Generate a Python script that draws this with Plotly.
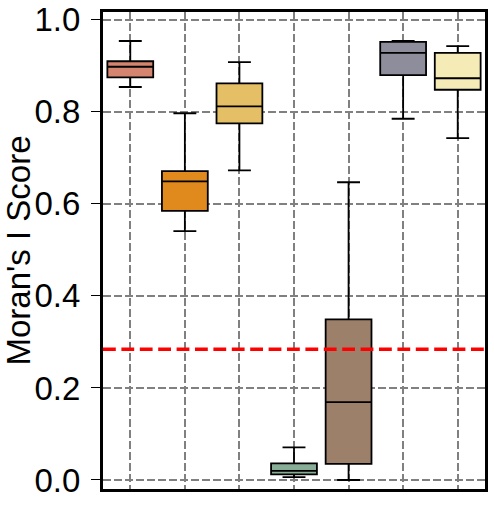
import plotly.graph_objects as go

positions = [0, 1, 2, 3, 4, 5, 6]
lower_whisker = [0.854, 0.541, 0.673, 0.006, 0.000, 0.785, 0.743]
q1_vals = [0.875, 0.585, 0.775, 0.012, 0.035, 0.880, 0.848]
median_vals = [0.898, 0.649, 0.812, 0.020, 0.169, 0.928, 0.873]
q3_vals = [0.910, 0.671, 0.862, 0.036, 0.349, 0.952, 0.928]
upper_whisker = [0.954, 0.797, 0.908, 0.071, 0.647, 0.954, 0.943]
colors = ["#D58470", "#E08A1E", "#E4BF65", "#88AD96", "#9D806A", "#8E8D9C", "#F5EBB6"]
threshold = 0.284
y_ticks = [0.0, 0.2, 0.4, 0.6, 0.8, 1.0]

fig = go.Figure()
for i in range(len(positions)):
    fig.add_trace(go.Box(
        x=[positions[i]],
        q1=[q1_vals[i]], median=[median_vals[i]], q3=[q3_vals[i]],
        lowerfence=[lower_whisker[i]], upperfence=[upper_whisker[i]],
        fillcolor=colors[i],
        line=dict(color="black", width=1.8),
        width=0.84, whiskerwidth=0.5,
        boxpoints=False, showlegend=False, hoverinfo="skip",
    ))

fig.add_shape(type="line", xref="paper", x0=0, x1=1, yref="y", y0=threshold, y1=threshold,
              line=dict(color="red", width=3.5, dash="12.8px,5.6px"), layer="above")

fig.update_layout(
    width=494, height=509,
    margin=dict(l=103, r=9, t=12, b=20),
    plot_bgcolor="white", paper_bgcolor="white",
    boxmode="overlay",
    font=dict(family="Liberation Sans, Arial", color="black", size=33),
    xaxis=dict(range=[-0.5, 6.5], tickvals=positions, showticklabels=False,
               showgrid=True, gridcolor="#808080", gridwidth=2, griddash="7.7px,3.3px",
               showline=True, linecolor="black", linewidth=3, mirror=True,
               ticks="", zeroline=False, automargin=False),
    yaxis=dict(range=[-0.0196, 1.017], tickvals=y_ticks, ticktext=[f"{v:.1f}" for v in y_ticks],
               showgrid=True, gridcolor="#808080", gridwidth=2, griddash="7.7px,3.3px",
               showline=True, linecolor="black", linewidth=3, mirror=True,
               ticks="outside", ticklen=9, tickwidth=1.2, tickcolor="black",
               ticklabelstandoff=4, zeroline=False, automargin=False,
               tickfont=dict(size=33),
               title=dict(text="Moran's I Score", font=dict(size=33), standoff=6)),
)

fig.write_html("out.html")
